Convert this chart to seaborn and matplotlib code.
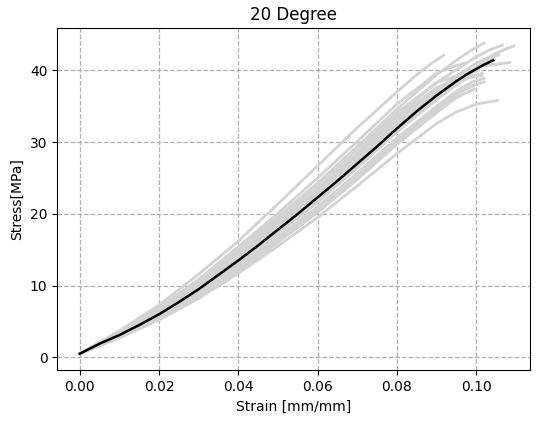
import pandas as pd
import matplotlib
matplotlib.use("Agg")
import matplotlib.pyplot as plt
import seaborn as sns

# individual specimens (strain, stress)
s01_strain = [0, .01, .02, .03, .04, .05, .06, .07, .08, .085, .0885, .0918]
s01_stress = [0.5, 3.7, 7.3, 11.6, 16.2, 21.4, 26.7, 32.0, 37.0, 39.4, 40.9, 42.1]
s02_strain = [0, .01, .02, .03, .04, .05, .06, .07, .08, .09, .095, .099, .102]
s02_stress = [0.5, 3.4, 6.7, 10.6, 15.0, 19.6, 24.3, 29.4, 34.6, 39.4, 41.4, 42.9, 43.8]
s03_strain = [0, .01, .02, .03, .04, .05, .06, .07, .08, .09, .10, .104, .1066]
s03_stress = [0.5, 3.3, 6.4, 10.2, 14.4, 18.9, 23.5, 28.5, 33.6, 38.3, 41.9, 43.0, 43.5]
s04_strain = [0, .01, .02, .03, .04, .05, .06, .07, .08, .09, .10, .105, .1095]
s04_stress = [0.5, 3.0, 5.8, 9.2, 13.1, 17.4, 21.7, 26.5, 31.6, 36.4, 40.4, 42.4, 43.4]
s05_strain = [0, .01, .02, .03, .04, .05, .06, .07, .08, .09, .10, .104, .1075]
s05_stress = [0.5, 3.1, 6.0, 9.5, 13.5, 17.8, 22.2, 27.0, 32.0, 36.6, 40.3, 42.1, 43.0]
s06_strain = [0, .01, .02, .03, .04, .05, .06, .07, .08, .09, .10, .103, .1057]
s06_stress = [0.5, 3.2, 6.2, 9.8, 13.9, 18.3, 22.8, 27.7, 32.8, 37.4, 41.0, 41.8, 42.1]
s07_strain = [0, .01, .02, .03, .04, .05, .06, .07, .08, .09, .0965, .1015, .1085]
s07_stress = [0.5, 3.2, 6.1, 9.6, 13.6, 17.9, 22.3, 27.2, 32.3, 36.9, 39.6, 40.6, 41.1]
s08_strain = [0, .01, .02, .03, .04, .05, .06, .07, .08, .09, .095, .0985, .1015]
s08_stress = [0.5, 3.0, 5.8, 9.2, 13.1, 17.3, 21.6, 26.4, 31.4, 35.9, 38.0, 39.1, 39.6]
s09_strain = [0, .01, .02, .03, .04, .05, .06, .07, .08, .09, .095, .099, .102]
s09_stress = [0.5, 2.9, 5.6, 8.9, 12.7, 16.8, 21.0, 25.7, 30.6, 35.0, 37.1, 38.4, 38.9]
s10_strain = [0, .01, .02, .03, .04, .05, .06, .07, .08, .09, .095, .099, .102]
s10_stress = [0.5, 2.8, 5.4, 8.6, 12.3, 16.4, 20.6, 25.2, 30.1, 34.5, 36.6, 37.9, 38.4]
s11_strain = [0, .01, .02, .03, .04, .05, .06, .07, .08, .09, .095, .10, .1053]
s11_stress = [0.5, 2.7, 5.2, 8.2, 11.7, 15.5, 19.5, 23.9, 28.4, 32.6, 34.2, 35.3, 35.8]
s12_strain = [0, .01, .02, .03, .04, .05, .06, .07, .08, .09, .0965, .1015]
s12_stress = [0.5, 3.3, 6.3, 10.0, 14.1, 18.6, 23.2, 28.2, 33.3, 37.6, 38.8, 39.3]
s13_strain = [0, .01, .02, .03, .04, .05, .06, .07, .08, .09, .0965, .1005]
s13_stress = [0.5, 3.4, 6.6, 10.4, 14.7, 19.3, 24.0, 29.0, 34.1, 38.3, 39.5, 40.0]
s14_strain = [0, .01, .02, .03, .04, .05, .06, .07, .08, .09, .10, .104]
s14_stress = [0.5, 3.1, 5.9, 9.4, 13.3, 17.6, 21.9, 26.7, 31.7, 36.2, 40.0, 41.6]
s15_strain = [0, .01, .02, .03, .04, .05, .06, .07, .08, .09, .095, .100]
s15_stress = [0.5, 2.9, 5.5, 8.7, 12.4, 16.5, 20.7, 25.3, 30.2, 34.9, 36.9, 38.0]
s16_strain = [0, .01, .02, .03, .04, .05, .06, .07, .08, .09, .095, .0995]
s16_stress = [0.5, 2.8, 5.3, 8.4, 12.0, 16.0, 20.2, 24.8, 29.7, 34.1, 36.2, 37.4]
s17_strain = [0, .01, .02, .03, .04, .05, .06, .07, .08, .09, .094, .097]
s17_stress = [0.5, 3.5, 6.9, 10.9, 15.4, 20.1, 25.0, 30.1, 35.3, 39.6, 40.5, 41.0]

# averaged curve
mean_strain = [0, .005, .01, .015, .02, .025, .03, .035, .04, .045, .05, .055,
               .06, .065, .07, .075, .08, .085, .09, .095, .0975, .10, .102, .1043]
mean_stress = [0.5, 1.9, 3.1, 4.5, 6.0, 7.7, 9.5, 11.5, 13.5, 15.6, 17.8, 20.0,
               22.3, 24.6, 27.0, 29.4, 31.9, 34.3, 36.5, 38.5, 39.4, 40.2, 40.8, 41.4]

specimens = [
    (s01_strain, s01_stress), (s02_strain, s02_stress), (s03_strain, s03_stress),
    (s04_strain, s04_stress), (s05_strain, s05_stress), (s06_strain, s06_stress),
    (s07_strain, s07_stress), (s08_strain, s08_stress), (s09_strain, s09_stress),
    (s10_strain, s10_stress), (s11_strain, s11_stress), (s12_strain, s12_stress),
    (s13_strain, s13_stress), (s14_strain, s14_stress), (s15_strain, s15_stress),
    (s16_strain, s16_stress), (s17_strain, s17_stress),
]
frames = []
for i, (e, s) in enumerate(specimens):
    frames.append(pd.DataFrame({"strain": e, "stress": s, "specimen": i}))
df = pd.concat(frames, ignore_index=True)
df_mean = pd.DataFrame({"strain": mean_strain, "stress": mean_stress})

fig = plt.figure(figsize=(5.4, 4.25), dpi=100)
ax = fig.add_axes([0.106, 0.129, 0.875, 0.805])

sns.lineplot(data=df, x="strain", y="stress", units="specimen", estimator=None,
             sort=False, color="lightgray", linewidth=2, ax=ax)
sns.lineplot(data=df_mean, x="strain", y="stress", estimator=None, sort=False,
             color="black", linewidth=1.8, ax=ax)

ax.set_xlim(-0.0057, 0.1135)
ax.set_ylim(-1.8, 45.9)
ax.set_xticks([0.0, 0.02, 0.04, 0.06, 0.08, 0.10])
ax.set_xticklabels(["0.00", "0.02", "0.04", "0.06", "0.08", "0.10"])
ax.set_yticks([0, 10, 20, 30, 40])
ax.grid(True, linestyle="--", color="#b0b0b0", linewidth=0.9)
ax.tick_params(labelsize=10)

ax.set_xlabel("Strain [mm/mm]", fontsize=10)
ax.set_ylabel("Stress[MPa]", fontsize=10)
ax.set_title("20 Degree", fontsize=12)

plt.savefig("out.png", dpi=100)
